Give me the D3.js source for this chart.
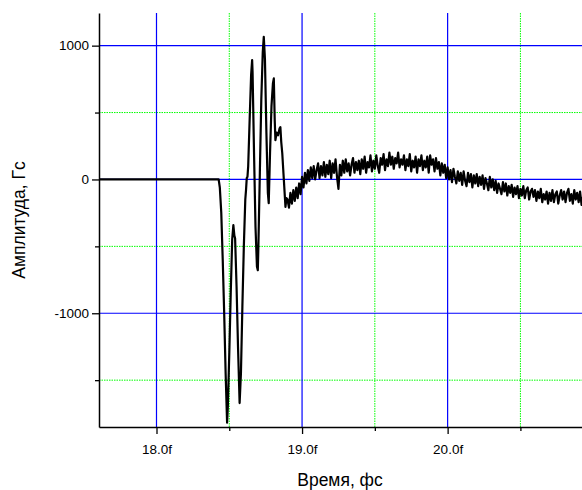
<!DOCTYPE html>
<html>
<head>
<meta charset="utf-8">
<script src="https://cdn.jsdelivr.net/npm/d3@7/dist/d3.min.js"></script>
<style>
body { margin: 0; background: #fff; }
svg text { font-family: "Liberation Sans", Arial, sans-serif; fill: #000; }
</style>
</head>
<body>
<div id="chart"></div>
<script>
// pulse part of the signal (time in fs, amplitude in Gs)
var pulseTime = [17.60, 18.42, 18.427, 18.435, 18.445, 18.455, 18.465, 18.475, 18.485, 18.49,
	18.50, 18.51, 18.52, 18.528, 18.535, 18.54, 18.55, 18.56, 18.571, 18.58,
	18.59, 18.60, 18.61, 18.615, 18.62, 18.625, 18.63, 18.64, 18.65, 18.657,
	18.66, 18.67, 18.68, 18.69, 18.696, 18.70, 18.71, 18.72, 18.73, 18.737,
	18.745, 18.755, 18.765, 18.771, 18.78, 18.79, 18.80, 18.806, 18.812, 18.817,
	18.825, 18.835, 18.845, 18.851, 18.857, 18.864, 18.875, 18.886, 18.893];
var pulseAmp = [0, 0, 0, -60, -250, -600, -1000, -1450, -1818, -1700,
	-1300, -850, -450, -342, -420, -440, -800, -1250, -1671, -1450,
	-950, -500, -150, -80, 10, 20, 100, 450, 780, 892,
	800, 200, -350, -650, -678, -500, 50, 600, 950, 1066,
	900, 350, -100, -177, 200, 550, 720, 755, 450, 294,
	350, 330, 380, 391, 280, 196, -5, -205, -140];

// noisy tail, sampled every 0.01 fs
var tailTime = [18.90, 18.91, 18.92, 18.93, 18.94, 18.95, 18.96, 18.97, 18.98, 18.99,
	19.00, 19.01, 19.02, 19.03, 19.04, 19.05, 19.06, 19.07, 19.08, 19.09,
	19.10, 19.11, 19.12, 19.13, 19.14, 19.15, 19.16, 19.17, 19.18, 19.19,
	19.20, 19.21, 19.22, 19.23, 19.24, 19.25, 19.26, 19.27, 19.28, 19.29,
	19.30, 19.31, 19.32, 19.33, 19.34, 19.35, 19.36, 19.37, 19.38, 19.39,
	19.40, 19.41, 19.42, 19.43, 19.44, 19.45, 19.46, 19.47, 19.48, 19.49,
	19.50, 19.51, 19.52, 19.53, 19.54, 19.55, 19.56, 19.57, 19.58, 19.59,
	19.60, 19.61, 19.62, 19.63, 19.64, 19.65, 19.66, 19.67, 19.68, 19.69,
	19.70, 19.71, 19.72, 19.73, 19.74, 19.75, 19.76, 19.77, 19.78, 19.79,
	19.80, 19.81, 19.82, 19.83, 19.84, 19.85, 19.86, 19.87, 19.88, 19.89,
	19.90, 19.91, 19.92, 19.93, 19.94, 19.95, 19.96, 19.97, 19.98, 19.99,
	20.00, 20.01, 20.02, 20.03, 20.04, 20.05, 20.06, 20.07, 20.08, 20.09,
	20.10, 20.11, 20.12, 20.13, 20.14, 20.15, 20.16, 20.17, 20.18, 20.19,
	20.20, 20.21, 20.22, 20.23, 20.24, 20.25, 20.26, 20.27, 20.28, 20.29,
	20.30, 20.31, 20.32, 20.33, 20.34, 20.35, 20.36, 20.37, 20.38, 20.39,
	20.40, 20.41, 20.42, 20.43, 20.44, 20.45, 20.46, 20.47, 20.48, 20.49,
	20.50, 20.51, 20.52, 20.53, 20.54, 20.55, 20.56, 20.57, 20.58, 20.59,
	20.60, 20.61, 20.62, 20.63, 20.64, 20.65, 20.66, 20.67, 20.68, 20.69,
	20.70, 20.71, 20.72, 20.73, 20.74, 20.75, 20.76, 20.77, 20.78, 20.79,
	20.80, 20.81, 20.82, 20.83, 20.84, 20.85, 20.86, 20.87, 20.88, 20.89,
	20.90, 20.91, 20.92, 20.93];
var tailAmp = [-150, -210, -100, -180, -80, -160, -60, -140, -30, -110,
	20, -60, 50, -30, 70, -10, 90, 10, 100, 0,
	70, 120, 10, 100, 30, 130, 20, 110, 40, 140,
	10, 120, 50, 150, 20, -70, 110, 30, 140, 50,
	150, 60, 120, 30, 110, 160, 50, 130, 70, 140,
	40, 150, 80, 170, 50, 130, 90, 180, 60, 140,
	80, 180, 100, 50, 160, 110, 190, 70, 150, 100,
	200, 110, 170, 80, 160, 120, 200, 90, 150, 110,
	180, 70, 150, 100, 190, 60, 140, 90, 170, 50,
	150, 100, 180, 70, 140, 90, 170, 50, 180, 110,
	150, 60, 160, 80, 130, 30, 120, 50, 110, 10,
	90, 0, 70, -20, 80, 20, -30, 60, -10, 50,
	-40, 60, -10, -50, 50, -20, 40, -60, 30, -30,
	40, -50, 20, -40, 30, -70, 10, -30, -80, 20,
	-60, 0, -80, -10, -100, -30, -70, -110, -20, -90,
	-30, -120, -50, -100, -40, -130, -60, -110, -50, -140,
	-70, -120, -50, -140, -80, -60, -150, -90, -70, -130,
	-80, -160, -90, -140, -70, -170, -110, -150, -90, -180,
	-100, -160, -80, -170, -110, -90, -180, -120, -80, -150,
	-90, -170, -100, -70, -160, -110, -180, -80, -150, -100,
	-170, -90, -190, -130];

var xMajor = [18, 19, 20];
var xMinor = [18.5, 19.5, 20.5];
var yMajor = [-1000, 0, 1000];
var yMinor = [-1500, -500, 500];

var width = 582, height = 490;
var plotLeft = 99, plotTop = 13, plotRight = 583, plotBottom = 427;

var svg = d3.select("#chart").append("svg")
	.attr("width", width)
	.attr("height", height);

var x = d3.scaleLinear().domain([17.605, 20.93]).range([plotLeft, plotRight]);
var y = d3.scaleLinear().domain([-1850, 1244]).range([plotBottom, plotTop]);

var signal = [];
pulseTime.forEach((t, i) => signal.push([t, pulseAmp[i]]));
tailTime.forEach((t, i) => signal.push([t, tailAmp[i]]));

// grid
var grid = svg.append("g");
grid.selectAll("line.gxm").data(xMinor).enter().append("line")
	.attr("class", "gxm")
	.attr("x1", d => x(d)).attr("x2", d => x(d))
	.attr("y1", plotTop).attr("y2", plotBottom)
	.attr("stroke", "#00ff00").attr("stroke-width", 1).attr("stroke-dasharray", "1.5,1");
grid.selectAll("line.gym").data(yMinor).enter().append("line")
	.attr("class", "gym")
	.attr("x1", plotLeft).attr("x2", plotRight)
	.attr("y1", d => y(d)).attr("y2", d => y(d))
	.attr("stroke", "#00ff00").attr("stroke-width", 1).attr("stroke-dasharray", "1.5,1");
grid.selectAll("line.gx").data(xMajor).enter().append("line")
	.attr("class", "gx")
	.attr("x1", d => x(d)).attr("x2", d => x(d))
	.attr("y1", plotTop).attr("y2", plotBottom)
	.attr("stroke", "#0000ff").attr("stroke-width", 1.2);
grid.selectAll("line.gy").data(yMajor).enter().append("line")
	.attr("class", "gy")
	.attr("x1", plotLeft).attr("x2", plotRight)
	.attr("y1", d => y(d)).attr("y2", d => y(d))
	.attr("stroke", "#0000ff").attr("stroke-width", 1.2);

// signal
svg.append("clipPath").attr("id", "clip")
	.append("rect").attr("x", plotLeft).attr("y", plotTop)
	.attr("width", plotRight - plotLeft).attr("height", plotBottom - plotTop);

var line = d3.line().x(d => x(d[0])).y(d => y(d[1]));

svg.append("path")
	.datum(signal)
	.attr("clip-path", "url(#clip)")
	.attr("d", line)
	.attr("fill", "none")
	.attr("stroke", "#000")
	.attr("stroke-width", 2.2)
	.attr("stroke-linejoin", "round");

// axes
var fmtX = d => d3.format(".1f")(d) + "f";

var xAxis = svg.append("g").attr("transform", "translate(0," + plotBottom + ")")
	.call(d3.axisBottom(x).tickValues(xMajor).tickSize(7).tickSizeOuter(0).tickFormat(fmtX));
svg.append("g").attr("transform", "translate(0," + plotBottom + ")")
	.call(d3.axisBottom(x).tickValues(xMinor).tickSize(4).tickSizeOuter(0).tickFormat(""))
	.select(".domain").remove();

var yAxis = svg.append("g").attr("transform", "translate(" + plotLeft + ",0)")
	.call(d3.axisLeft(y).tickValues(yMajor).tickSize(7).tickSizeOuter(0).tickFormat(d => String(d)));
svg.append("g").attr("transform", "translate(" + plotLeft + ",0)")
	.call(d3.axisLeft(y).tickValues(yMinor).tickSize(4).tickSizeOuter(0).tickFormat(""))
	.select(".domain").remove();

svg.selectAll(".domain").attr("stroke", "#000").attr("stroke-width", 1.5);
svg.selectAll(".tick line").attr("stroke", "#000").attr("stroke-width", 1.3);
svg.selectAll(".tick text").style("font-size", "13.5px")
	.style("font-family", "'Liberation Sans', Arial, sans-serif");
xAxis.selectAll(".tick text").attr("dy", "1.25em");
yAxis.selectAll(".tick text").attr("x", -10);

// titles
svg.append("text")
	.attr("x", 340).attr("y", 486)
	.attr("text-anchor", "middle")
	.style("font-size", "17.5px")
	.text("Время, фс");

svg.append("text")
	.attr("transform", "translate(25,220) rotate(-90)")
	.attr("text-anchor", "middle")
	.style("font-size", "17.5px")
	.text("Амплитуда, Гс");
</script>
</body>
</html>
